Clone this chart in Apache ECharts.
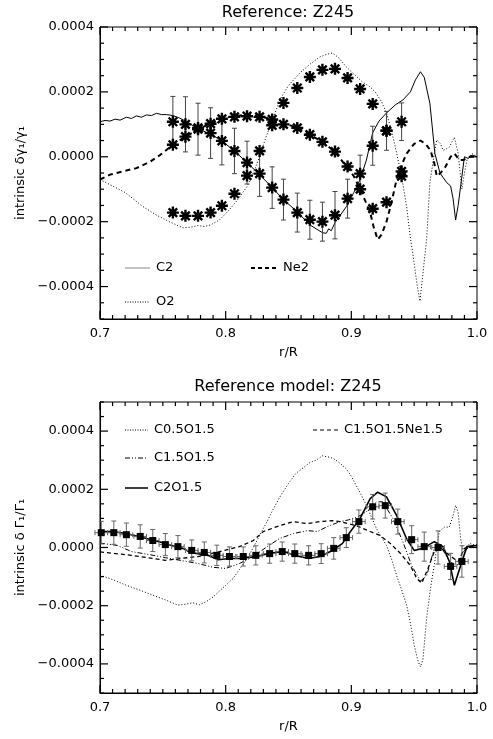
<!DOCTYPE html>
<html><head><meta charset="utf-8">
<script src="https://cdn.jsdelivr.net/npm/echarts@6/dist/echarts.min.js"></script>
<style>html,body{margin:0;padding:0;background:#fff}#c{width:493px;height:739px}</style>
</head><body><div id="c"></div>
<script>
// ---------- tick labels ----------
const xMajorTicks = [0.7, 0.8, 0.9, 1.0];
const yMajorTicks = [-0.0004, -0.0002, 0, 0.0002, 0.0004];

// ---------- TOP PANEL: Reference Z245 ----------
const topC2 = [[0.700,1.08e-4],[0.704,1.12e-4],[0.708,1.10e-4],[0.712,1.16e-4],[0.716,1.13e-4],[0.721,1.22e-4],[0.725,1.18e-4],[0.729,1.26e-4],[0.733,1.22e-4],[0.737,1.29e-4],[0.741,1.27e-4],[0.745,1.34e-4],[0.749,1.30e-4],[0.753,1.30e-4],[0.758,1.27e-4],[0.763,1.20e-4],[0.769,1.08e-4],[0.774,0.96e-4],[0.780,0.83e-4],[0.788,0.70e-4],[0.797,0.49e-4],[0.807,0.18e-4],[0.817,-0.18e-4],[0.827,-0.55e-4],[0.837,-0.95e-4],[0.846,-1.32e-4],[0.857,-1.70e-4],[0.867,-2.10e-4],[0.877,-2.34e-4],[0.880,-2.36e-4],[0.882,-2.22e-4],[0.884,-2.28e-4],[0.887,-2.03e-4],[0.896,-1.54e-4],[0.902,-1.10e-4],[0.907,-0.70e-4],[0.912,-0.10e-4],[0.917,0.74e-4],[0.922,1.10e-4],[0.928,1.35e-4],[0.935,1.60e-4],[0.941,1.75e-4],[0.947,2.00e-4],[0.951,2.37e-4],[0.955,2.62e-4],[0.958,2.45e-4],[0.9625,1.65e-4],[0.9665,0.10e-4],[0.9705,-0.50e-4],[0.976,-0.80e-4],[0.979,-0.90e-4],[0.981,-1.30e-4],[0.983,-1.95e-4],[0.985,-1.50e-4],[0.987,-0.90e-4],[0.990,0.0],[0.993,-0.05e-4],[0.996,0.05e-4],[1.000,0.0]];
const topO2 = [[0.700,-0.70e-4],[0.710,-0.90e-4],[0.720,-1.10e-4],[0.734,-1.53e-4],[0.745,-1.80e-4],[0.755,-2.00e-4],[0.766,-2.19e-4],[0.772,-2.17e-4],[0.778,-2.12e-4],[0.783,-2.15e-4],[0.788,-2.10e-4],[0.795,-1.95e-4],[0.803,-1.63e-4],[0.810,-1.30e-4],[0.817,-0.92e-4],[0.822,-0.50e-4],[0.827,0.0],[0.832,0.60e-4],[0.838,1.20e-4],[0.843,1.75e-4],[0.850,2.20e-4],[0.859,2.58e-4],[0.867,2.85e-4],[0.875,3.08e-4],[0.880,3.15e-4],[0.885,3.20e-4],[0.890,3.05e-4],[0.896,2.77e-4],[0.902,2.55e-4],[0.909,2.30e-4],[0.915,2.15e-4],[0.919,2.00e-4],[0.924,1.70e-4],[0.928,1.35e-4],[0.932,0.80e-4],[0.936,0.12e-4],[0.940,-0.60e-4],[0.944,-1.54e-4],[0.947,-2.50e-4],[0.949,-3.00e-4],[0.9525,-4.00e-4],[0.9546,-4.45e-4],[0.957,-3.60e-4],[0.960,-2.50e-4],[0.9625,-0.80e-4],[0.966,0.10e-4],[0.968,0.52e-4],[0.971,0.40e-4],[0.973,0.20e-4],[0.976,0.25e-4],[0.978,0.30e-4],[0.980,0.45e-4],[0.982,0.60e-4],[0.985,0.10e-4],[0.988,-1.00e-4],[0.990,-0.50e-4],[0.992,-0.10e-4],[0.996,0.10e-4],[1.000,0.0]];
const topNe2 = [[0.700,-0.70e-4],[0.708,-0.55e-4],[0.718,-0.45e-4],[0.729,-0.35e-4],[0.740,-0.15e-4],[0.748,0.06e-4],[0.758,0.37e-4],[0.768,0.62e-4],[0.780,0.89e-4],[0.790,1.05e-4],[0.798,1.20e-4],[0.807,1.25e-4],[0.817,1.30e-4],[0.827,1.25e-4],[0.837,1.15e-4],[0.846,1.04e-4],[0.857,0.89e-4],[0.867,0.68e-4],[0.877,0.46e-4],[0.887,0.15e-4],[0.896,-0.30e-4],[0.902,-0.60e-4],[0.907,-1.00e-4],[0.911,-1.35e-4],[0.915,-1.72e-4],[0.918,-2.20e-4],[0.921,-2.55e-4],[0.924,-2.40e-4],[0.928,-2.00e-4],[0.932,-1.40e-4],[0.936,-0.70e-4],[0.940,-0.25e-4],[0.944,0.10e-4],[0.950,0.40e-4],[0.955,0.50e-4],[0.959,0.40e-4],[0.963,0.20e-4],[0.966,-0.20e-4],[0.968,-0.60e-4],[0.971,-0.50e-4],[0.975,-0.30e-4],[0.979,0.0],[0.982,0.10e-4],[0.986,-0.10e-4],[0.989,-0.10e-4],[0.994,0.0],[1.000,0.0]];
// observed points (asterisks)
const topStarR   = [0.758,0.768,0.778,0.788,0.797,0.807,0.817,0.827,0.837,0.846,0.857,0.867,0.877,0.887,0.897,0.907,0.917,0.928,0.940];
const topStarC2  = [1.08e-4,1.00e-4,0.85e-4,0.73e-4,0.49e-4,0.18e-4,-0.18e-4,-0.52e-4,-0.95e-4,-1.32e-4,-1.72e-4,-1.94e-4,-2.00e-4,-1.80e-4,-1.29e-4,-0.52e-4,0.34e-4,0.80e-4,1.08e-4];
const topStarC2Err = [0.78e-4,0.85e-4,0.80e-4,0.78e-4,0.74e-4,0.70e-4,0.66e-4,0.70e-4,0.64e-4,0.63e-4,0.60e-4,0.60e-4,0.60e-4,0.73e-4,0.60e-4,0.57e-4,0.60e-4,0.60e-4,0.58e-4];
const topStarO2  = [-1.72e-4,-1.82e-4,-1.82e-4,-1.72e-4,-1.51e-4,-1.14e-4,-0.58e-4,0.18e-4,0.97e-4,1.66e-4,2.12e-4,2.46e-4,2.68e-4,2.71e-4,2.43e-4,2.09e-4,1.63e-4,0.80e-4,-0.60e-4];
const topStarNe2 = [0.37e-4,0.62e-4,0.89e-4,1.02e-4,1.17e-4,1.23e-4,1.25e-4,1.23e-4,1.15e-4,1.00e-4,0.89e-4,0.68e-4,0.46e-4,0.16e-4,-0.30e-4,-1.00e-4,-1.60e-4,-1.40e-4,-0.45e-4];

// ---------- BOTTOM PANEL: Reference model Z245 ----------
const botC05O15 = [[0.700,-0.95e-4],[0.710,-1.10e-4],[0.721,-1.30e-4],[0.732,-1.47e-4],[0.742,-1.64e-4],[0.752,-1.80e-4],[0.762,-1.98e-4],[0.768,-1.95e-4],[0.774,-1.90e-4],[0.779,-1.97e-4],[0.785,-1.85e-4],[0.790,-1.70e-4],[0.795,-1.50e-4],[0.800,-1.30e-4],[0.806,-1.06e-4],[0.811,-0.75e-4],[0.817,-0.38e-4],[0.822,0.0],[0.827,0.41e-4],[0.833,0.90e-4],[0.838,1.33e-4],[0.844,1.80e-4],[0.850,2.20e-4],[0.856,2.55e-4],[0.862,2.75e-4],[0.867,2.92e-4],[0.872,3.00e-4],[0.877,3.15e-4],[0.880,3.12e-4],[0.883,3.10e-4],[0.886,3.05e-4],[0.891,2.90e-4],[0.896,2.70e-4],[0.900,2.45e-4],[0.904,2.12e-4],[0.908,1.80e-4],[0.912,1.44e-4],[0.916,1.05e-4],[0.920,0.65e-4],[0.924,0.35e-4],[0.928,0.07e-4],[0.932,-0.40e-4],[0.936,-0.96e-4],[0.940,-1.45e-4],[0.944,-1.98e-4],[0.947,-2.60e-4],[0.950,-3.35e-4],[0.953,-3.90e-4],[0.955,-4.10e-4],[0.957,-3.85e-4],[0.960,-2.40e-4],[0.963,-1.40e-4],[0.966,-0.60e-4],[0.968,0.0],[0.970,0.55e-4],[0.974,0.70e-4],[0.978,0.70e-4],[0.981,1.10e-4],[0.983,1.45e-4],[0.985,1.20e-4],[0.987,0.30e-4],[0.989,-0.14e-4],[0.991,-0.10e-4],[0.994,0.14e-4],[0.997,0.10e-4],[1.000,0.10e-4]];
const botC15O15 = [[0.700,0.15e-4],[0.714,0.07e-4],[0.725,-0.14e-4],[0.740,-0.25e-4],[0.752,-0.35e-4],[0.765,-0.45e-4],[0.778,-0.55e-4],[0.790,-0.68e-4],[0.800,-0.72e-4],[0.811,-0.55e-4],[0.822,-0.31e-4],[0.833,0.03e-4],[0.843,0.31e-4],[0.854,0.48e-4],[0.865,0.58e-4],[0.873,0.55e-4],[0.881,0.72e-4],[0.891,0.89e-4],[0.898,0.95e-4],[0.905,1.05e-4],[0.912,1.23e-4],[0.920,1.57e-4],[0.925,1.57e-4],[0.933,1.00e-4],[0.941,0.20e-4],[0.948,-0.62e-4],[0.955,-1.16e-4],[0.960,-0.96e-4],[0.966,-0.03e-4],[0.970,0.14e-4],[0.978,-0.48e-4],[0.984,-0.62e-4],[0.989,-0.14e-4],[0.995,0.05e-4],[1.000,0.0]];
const botC15O15Ne15 = [[0.700,-0.15e-4],[0.704,-0.17e-4],[0.725,-0.27e-4],[0.752,-0.44e-4],[0.778,-0.31e-4],[0.795,-0.14e-4],[0.811,0.03e-4],[0.822,0.24e-4],[0.830,0.55e-4],[0.843,0.75e-4],[0.854,0.89e-4],[0.865,0.82e-4],[0.875,0.89e-4],[0.885,0.92e-4],[0.891,0.89e-4],[0.904,0.75e-4],[0.915,0.55e-4],[0.923,0.41e-4],[0.931,0.14e-4],[0.939,-0.20e-4],[0.947,-0.62e-4],[0.952,-1.06e-4],[0.956,-1.23e-4],[0.961,-0.72e-4],[0.966,-0.14e-4],[0.970,0.03e-4],[0.978,-0.27e-4],[0.985,-0.48e-4],[0.990,-0.03e-4],[0.997,0.07e-4],[1.000,0.0]];
const botC2O15 = [[0.700,0.55e-4],[0.710,0.55e-4],[0.721,0.48e-4],[0.732,0.36e-4],[0.742,0.26e-4],[0.752,0.14e-4],[0.762,0.0],[0.766,-0.03e-4],[0.772,-0.17e-4],[0.786,-0.27e-4],[0.794,-0.42e-4],[0.803,-0.38e-4],[0.811,-0.38e-4],[0.825,-0.31e-4],[0.835,-0.20e-4],[0.846,-0.14e-4],[0.855,-0.27e-4],[0.866,-0.38e-4],[0.875,-0.31e-4],[0.885,-0.10e-4],[0.893,0.14e-4],[0.897,0.41e-4],[0.907,1.00e-4],[0.915,1.68e-4],[0.921,1.90e-4],[0.928,1.74e-4],[0.936,1.10e-4],[0.944,0.30e-4],[0.950,-0.10e-4],[0.957,-0.03e-4],[0.966,0.20e-4],[0.973,0.03e-4],[0.978,-0.48e-4],[0.982,-1.30e-4],[0.988,-0.48e-4],[0.992,0.03e-4],[1.000,0.07e-4]];
// observed points (squares) with errors
const botObsR   = [0.701,0.711,0.721,0.732,0.742,0.752,0.762,0.773,0.783,0.793,0.803,0.814,0.824,0.835,0.845,0.855,0.866,0.876,0.886,0.896,0.906,0.917,0.927,0.937,0.948,0.958,0.969,0.979,0.988];
const botObsV   = [0.51e-4,0.51e-4,0.44e-4,0.38e-4,0.24e-4,0.10e-4,0.03e-4,-0.10e-4,-0.17e-4,-0.27e-4,-0.31e-4,-0.31e-4,-0.27e-4,-0.21e-4,-0.14e-4,-0.21e-4,-0.27e-4,-0.21e-4,-0.03e-4,0.34e-4,0.89e-4,1.40e-4,1.44e-4,0.89e-4,0.27e-4,0.03e-4,0.0,-0.65e-4,-0.48e-4];
const botObsErr = [0.39e-4,0.40e-4,0.40e-4,0.40e-4,0.38e-4,0.38e-4,0.38e-4,0.36e-4,0.36e-4,0.35e-4,0.33e-4,0.33e-4,0.33e-4,0.33e-4,0.33e-4,0.33e-4,0.33e-4,0.34e-4,0.37e-4,0.34e-4,0.40e-4,0.42e-4,0.43e-4,0.43e-4,0.48e-4,0.50e-4,0.57e-4,0.45e-4,0.54e-4];
const botObsRErr = 0.005;

// ---------- build ----------
const FONT = '"DejaVu Sans", sans-serif';
const chart = echarts.init(document.getElementById('c'), null, {renderer:'canvas'});
const STAR = 'path://M-1.2,-6L1.2,-6L1.2,6L-1.2,6Z M-6,-1.2L6,-1.2L6,1.2L-6,1.2Z M-5.1,-3.4L-3.4,-5.1L5.1,3.4L3.4,5.1Z M3.4,-5.1L5.1,-3.4L-3.4,5.1L-5.1,3.4Z M-3,-3L3,-3L3,3L-3,3Z';

const grids = [
  {left:100, width:377, top:27, height:292, show:true, borderColor:'#000', borderWidth:1},
  {left:100, width:377, top:402, height:291, show:true, borderColor:'#000', borderWidth:1}
];
const yRanges = [[-0.0005, 0.0004], [-0.0005, 0.0005]];
const yNames = ['intrinsic \u03b4\u03b3\u2081/\u03b3\u2081', 'intrinsic \u03b4 \u0393\u2081/\u0393\u2081'];
const fmtY = v => (v < 0 ? '\u2212' : '') + Math.abs(v).toFixed(4);
const X_MIN = 0.7, X_MAX = 1.0, X_MINOR = 0.01, Y_MINOR = 0.00005, Y_MAJOR = 0.0002;
const MAJOR_LEN = 8, MINOR_LEN = 4, TICK_W = 1.2;

const xAxes = [], yAxes = [];
for (let g = 0; g < 2; g++) {
  xAxes.push({gridIndex:g, type:'value', min:X_MIN, max:X_MAX, interval:0.1, position:'bottom',
    name:'r/R', nameLocation:'middle', nameGap:27, nameTextStyle:{fontFamily:FONT, fontSize:13, color:'#000'},
    axisLine:{show:true, onZero:false, lineStyle:{color:'#000', width:1}}, axisTick:{show:false},
    splitLine:{show:false},
    axisLabel:{fontFamily:FONT, fontSize:13, color:'#000', margin:8, formatter:v=>v.toFixed(1)}});
  const [mn, mx] = yRanges[g];
  yAxes.push({gridIndex:g, type:'value', min:mn, max:mx, position:'left',
    name:yNames[g], nameLocation:'middle', nameGap:70, nameTextStyle:{fontFamily:FONT, fontSize:13, color:'#000'},
    axisLine:{show:true, onZero:false, lineStyle:{color:'#000', width:1}}, axisTick:{show:false},
    axisLabel:{fontFamily:FONT, fontSize:13, color:'#000', margin:6, customValues:yMajorTicks, formatter:fmtY},
    splitLine:{show:false}});
}

// tick marks: thin rectangles placed at the axis values, pointing inside the frame
function tickSeries(g) {
  const [mn, mx] = yRanges[g];
  const items = [];
  const nx = Math.round((X_MAX - X_MIN) / X_MINOR);
  for (let i = 0; i <= nx; i++) {
    const L = (i % 10 === 0) ? MAJOR_LEN : MINOR_LEN;
    const x = X_MIN + i * X_MINOR;
    items.push({value:[x, mn], symbolSize:[TICK_W, L], symbolOffset:[0, -L / 2]});
    items.push({value:[x, mx], symbolSize:[TICK_W, L], symbolOffset:[0, L / 2]});
  }
  const ny = Math.round((mx - mn) / Y_MINOR);
  for (let i = 0; i <= ny; i++) {
    const v = mn + i * Y_MINOR;
    const L = Math.abs(Math.round(v / Y_MAJOR) * Y_MAJOR - v) < 1e-9 ? MAJOR_LEN : MINOR_LEN;
    items.push({value:[X_MIN, v], symbolSize:[L, TICK_W], symbolOffset:[L / 2, 0]});
    items.push({value:[X_MAX, v], symbolSize:[L, TICK_W], symbolOffset:[-L / 2, 0]});
  }
  return {type:'scatter', xAxisIndex:g, yAxisIndex:g, data:items, symbol:'rect', clip:false,
    itemStyle:{color:'#000', opacity:1}, z:10, silent:true, animation:false, large:false};
}

function lineSeries(g, data, style) {
  return {type:'line', xAxisIndex:g, yAxisIndex:g, data:data, symbol:'none', smooth:false,
    lineStyle:Object.assign({color:'#000', width:1}, style), z:3, silent:true, animation:false};
}
function errSeries(g, data, color, withX) {
  return {type:'custom', xAxisIndex:g, yAxisIndex:g, data:data, z:4, silent:true, animation:false,
    renderItem:function(params, api){
      const x = api.value(0), y = api.value(1), e = api.value(2), ex = api.value(3);
      const a = api.coord([x, y - e]), b = api.coord([x, y + e]);
      const cap = 2.5;
      const ch = [
        {type:'line', shape:{x1:a[0], y1:a[1], x2:b[0], y2:b[1]}, style:{stroke:color, lineWidth:1}},
        {type:'line', shape:{x1:a[0]-cap, y1:a[1], x2:a[0]+cap, y2:a[1]}, style:{stroke:color, lineWidth:1}},
        {type:'line', shape:{x1:b[0]-cap, y1:b[1], x2:b[0]+cap, y2:b[1]}, style:{stroke:color, lineWidth:1}}
      ];
      if (withX) {
        const c = api.coord([x - ex, y]), d = api.coord([x + ex, y]);
        ch.push({type:'line', shape:{x1:c[0], y1:c[1], x2:d[0], y2:d[1]}, style:{stroke:color, lineWidth:1}});
        ch.push({type:'line', shape:{x1:c[0], y1:c[1]-cap, x2:c[0], y2:c[1]+cap}, style:{stroke:color, lineWidth:1}});
        ch.push({type:'line', shape:{x1:d[0], y1:d[1]-cap, x2:d[0], y2:d[1]+cap}, style:{stroke:color, lineWidth:1}});
      }
      return {type:'group', children:ch};
    }};
}
function scatterSeries(g, data, symbol, size) {
  return {type:'scatter', xAxisIndex:g, yAxisIndex:g, data:data, symbol:symbol, symbolSize:size,
    itemStyle:{color:'#000', opacity:1}, z:5, silent:true, animation:false};
}

const zip = (xs, ys) => xs.map((x, i) => [x, ys[i]]);

const series = [
  tickSeries(0), tickSeries(1),
  lineSeries(0, topC2, {width:1}),
  lineSeries(0, topO2, {type:[1,2], width:1}),
  lineSeries(0, topNe2, {type:[5,4], width:2}),
  errSeries(0, topStarR.map((r,i)=>[r, topStarC2[i], topStarC2Err[i], 0]), '#444', false),
  scatterSeries(0, zip(topStarR, topStarC2), STAR, 12),
  scatterSeries(0, zip(topStarR, topStarO2), STAR, 12),
  scatterSeries(0, zip(topStarR, topStarNe2), STAR, 12),
  lineSeries(1, botC05O15, {type:[1,2], width:1}),
  lineSeries(1, botC15O15, {type:[5,2,1,2,1,2], width:1}),
  lineSeries(1, botC15O15Ne15, {type:[4,3], width:1.3}),
  lineSeries(1, botC2O15, {width:1.6}),
  errSeries(1, botObsR.map((r,i)=>[r, botObsV[i], botObsErr[i], botObsRErr]), '#666', true),
  scatterSeries(1, zip(botObsR, botObsV), 'rect', 7)
];

function legendItem(x1, x2, y, dash, width, color, label) {
  return [
    {type:'line', shape:{x1:x1, y1:y, x2:x2, y2:y}, style:{stroke:color, lineWidth:width, lineDash:dash}},
    {type:'text', x:x2 + 6, y:y, style:{text:label, fill:'#000', font:'13px ' + FONT, textVerticalAlign:'middle', textAlign:'left'}}
  ];
}
const graphics = [].concat(
  [{type:'text', x:288, y:13, style:{text:'Reference: Z245', fill:'#000', font:'16px ' + FONT, textAlign:'center', textVerticalAlign:'middle'}},
   {type:'text', x:288, y:387, style:{text:'Reference model: Z245', fill:'#000', font:'16px ' + FONT, textAlign:'center', textVerticalAlign:'middle'}}],
  legendItem(125, 150, 268, null, 1, '#888', 'C2'),
  legendItem(251, 277, 268, [4,3], 2, '#000', 'Ne2'),
  legendItem(125, 150, 302, [1,1.5], 1, '#000', 'O2'),
  legendItem(125, 148, 430, [1,1.5], 1, '#000', 'C0.5O1.5'),
  legendItem(125, 148, 458, [5,2,1,2,1,2], 1, '#000', 'C1.5O1.5'),
  legendItem(125, 148, 488, null, 1.5, '#000', 'C2O1.5'),
  legendItem(313, 338, 430, [4,3], 1.2, '#000', 'C1.5O1.5Ne1.5')
);

chart.setOption({
  animation:false,
  backgroundColor:'#fff',
  grid:grids, xAxis:xAxes, yAxis:yAxes, series:series, graphic:graphics
});
</script></body></html>
